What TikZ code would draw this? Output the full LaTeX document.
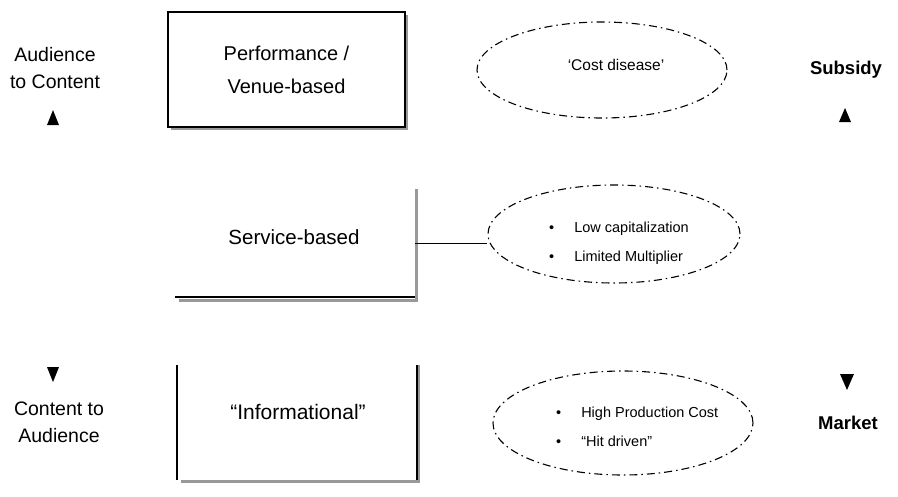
\documentclass[tikz,border=0pt]{standalone}
\usepackage{fontspec}
\setmainfont{Liberation Sans}
\usetikzlibrary{shapes.geometric,shadows}

\tikzset{
  sidelabel/.style={align=center, font=\fontsize{19.5}{27}\selectfont, inner sep=0pt},
  flowlabel/.style={font=\bfseries\fontsize{18.5}{24}\selectfont, inner sep=0pt},
  modelbox/.style={draw=black, line width=1.5pt, fill=white, align=center,
    minimum width=237pt, minimum height=115pt, inner sep=0pt,
    drop shadow={fill=gray!80, opacity=1, shadow xshift=3pt, shadow yshift=-3pt}},
  openbox/.style={minimum width=240pt, minimum height=108pt, inner sep=0pt},
  costcloud/.style={ellipse, draw=black, line width=1.1pt,
    dash pattern=on 8pt off 4pt on 1.5pt off 4pt, inner sep=0pt},
  bulletlist/.style={anchor=west, inner sep=0pt, font=\fontsize{14.5}{29}\selectfont}
}

\begin{document}
\begin{tikzpicture}[x=1pt,y=-1pt]
\useasboundingbox (0,0) rectangle (898,496);

% left column : direction of the flow
\node[sidelabel] (aud) at (55,68) {Audience\\to Content};
\fill (47,125) -- (53,110) -- (59,125) -- cycle;
\node[sidelabel] (cta) at (59,422) {Content to\\Audience};
\fill (47,367) -- (53,382) -- (59,367) -- cycle;

% the three models
\node[modelbox, font=\fontsize{20}{33}\selectfont] (perf) at (286.5,69.5) {Performance /\\Venue-based};
\node[openbox] (svcbox) at (295,243) {};
\node[font=\fontsize{20.5}{24}\selectfont] (svctext) at (294,237) {Service-based};
\draw[gray!80, line width=3pt] ([xshift=1.5pt]svcbox.north east) -- ([xshift=1.5pt,yshift=-3pt]svcbox.south east) -- ([xshift=4pt,yshift=-3pt]svcbox.south west);
\draw[line width=1.5pt] (svcbox.south west) -- (svcbox.south east);
\node[openbox, minimum height=115pt] (infobox) at (297,422.5) {};
\node[font=\fontsize{21}{24}\selectfont] (infotext) at (298,412) {``Informational''};
\draw[gray!80, line width=3pt] ([xshift=1.5pt]infobox.north east) -- ([xshift=1.5pt,yshift=-1.5pt]infobox.south east) -- ([xshift=4pt,yshift=-1.5pt]infobox.south west);
\draw[line width=1.5pt] (infobox.north west) -- (infobox.south west);
\draw[line width=1.5pt] (infobox.north east) -- (infobox.south east);

% the economics of each model
\node[costcloud, minimum width=250pt, minimum height=96pt] (cost) at (602,70) {};
\node[font=\fontsize{15.5}{20}\selectfont] (costtext) at (616,65) {`Cost disease'};
\node[costcloud, minimum width=252pt, minimum height=98pt] (svcell) at (614,234) {};
\node[bulletlist] (svclist) at (549,241) {\begin{tabular}{@{}l@{\hspace{20pt}}l@{}}\textbullet & Low capitalization\\ \textbullet & Limited Multiplier\end{tabular}};
\node[costcloud, minimum width=260pt, minimum height=104pt] (hitell) at (623,423) {};
\node[bulletlist] (hitlist) at (556,426) {\begin{tabular}{@{}l@{\hspace{20pt}}l@{}}\textbullet & High Production Cost\\ \textbullet & ``Hit driven''\end{tabular}};

\draw[line width=1pt] (svcbox.east) -- (svcbox.east -| svcell.west);

% right column : how it is paid for
\node[flowlabel] (sub) at (846,70) {Subsidy};
\fill (839,122) -- (845,108) -- (851,122) -- cycle;
\node[flowlabel] (mkt) at (848,423) {Market};
\fill (840,374) -- (847,390) -- (854,374) -- cycle;
\end{tikzpicture}
\end{document}
